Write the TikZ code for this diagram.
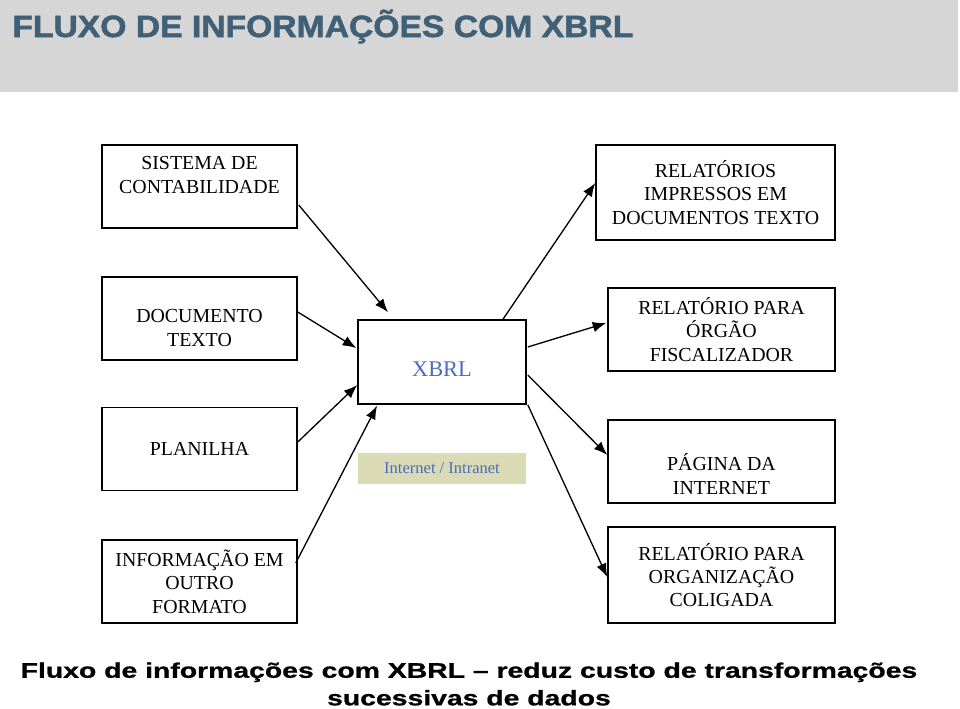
\documentclass[tikz,border=0pt]{standalone}
\usepackage{fontspec}
\setmainfont{Liberation Serif}
\newfontfamily\headfont{Liberation Sans}[BoldFeatures={FakeBold=1.6}]
\newfontfamily\capfont{Liberation Sans}[BoldFeatures={FakeBold=0.8}]
\usepackage{tikz}
\usetikzlibrary{arrows.meta,calc}
\definecolor{xb_gray}{HTML}{D6D6D6}
\definecolor{xb_title}{HTML}{3F6077}
\definecolor{xb_blue}{HTML}{4A6BBF}
\definecolor{xb_khaki}{HTML}{DADBB5}

\begin{document}
\begin{tikzpicture}[x=0.02cm, y=-0.02cm,
    caixa/.style={draw, line width=0.9pt, align=center, inner sep=0pt,
        font=\fontsize{11.3}{13.3}\selectfont},
    entrada/.style={caixa, minimum width=3.9cm, minimum height=1.66cm},
    saida/.style={caixa, minimum width=4.54cm, minimum height=1.66cm},
    fluxo/.style={line width=0.75pt, -{Latex[length=2.7mm,width=2.1mm]}}]

    \useasboundingbox (0,0) rectangle (960,708);

    % faixa do titulo
    \fill[xb_gray] (0,0) rectangle (958,92);
    \node[anchor=base west, inner sep=0pt, text=xb_title, xscale=1.095, transform shape,
        font=\headfont\bfseries\fontsize{17.5}{20}\selectfont] (titulo) at (12,37)
        {FLUXO DE INFORMAÇÕES COM XBRL};

    % fontes de dados
    \node[entrada] (sis) at (199.5,186.5) {SISTEMA DE\\CONTABILIDADE\\\mbox{}};
    \node[entrada] (doc) at (199.5,318.5) {\rule{0pt}{5pt}\\DOCUMENTO\\TEXTO};
    \node[entrada] (plan) at (199.5,449) {PLANILHA};
    \node[entrada] (info) at (199.5,581.5) {INFORMAÇÃO EM\\OUTRO\\FORMATO};

    % centro
    \node[caixa, minimum width=3.36cm, minimum height=1.68cm, text=xb_blue,
        text height=17pt, text depth=0pt,
        font=\fontsize{12.75}{15}\selectfont] (xbrl) at (442,362) {XBRL};
    \node[fill=xb_khaki, minimum width=3.36cm, minimum height=0.62cm, inner sep=0pt,
        text=xb_blue, font=\fontsize{9.4}{11}\selectfont] (net) at (442,468.5)
        {Internet / Intranet};

    % destinos
    \node[saida, minimum width=4.78cm, minimum height=1.9cm] (rel) at (715.5,192.5)
        {RELATÓRIOS\\IMPRESSOS EM\\DOCUMENTOS TEXTO};
    \node[saida] (org) at (721.5,329.5) {RELATÓRIO PARA\\ÓRGÃO\\FISCALIZADOR};
    \node[saida] (pag) at (721.5,461.5) {\strut\\PÁGINA DA\\INTERNET};
    \node[saida, minimum height=1.92cm] (col) at (721.5,575)
        {RELATÓRIO PARA\\ORGANIZAÇÃO\\COLIGADA};

    % setas de entrada
    \draw[fluxo] ($(sis.east)+(1,18.5)$) -- ($(xbrl.north)+(-54,-7)$);
    \draw[fluxo] ($(doc.east)+(0,-6.5)$) -- ($(xbrl.west)+(-1,-14)$);
    \draw[fluxo] ($(plan.east)+(0,-7)$) -- ($(xbrl.west)+(0,23)$);
    \draw[fluxo] ($(info.east)+(-2,-18.5)$) -- ($(xbrl.south)+(-65,1)$);

    % setas de saida
    \draw[fluxo] ($(xbrl.north)+(61,0)$) -- ($(rel.west)+(0,-9.5)$);
    \draw[fluxo] ($(xbrl.east)+(1,-15)$) -- ($(org.west)+(-1,-6.5)$);
    \draw[fluxo] ($(xbrl.east)+(1,13)$) -- ($(pag.west)+(0,-6.5)$);
    \draw[fluxo] ($(xbrl.south east)+(1,0)$) -- ($(col.west)+(0,2)$);

    \node[align=center, xscale=1.345, transform shape,
        font=\capfont\bfseries\fontsize{12}{15.7}\selectfont] (legenda) at (469,684)
        {Fluxo de informações com XBRL – reduz custo de transformações\\sucessivas de dados};
\end{tikzpicture}
\end{document}
